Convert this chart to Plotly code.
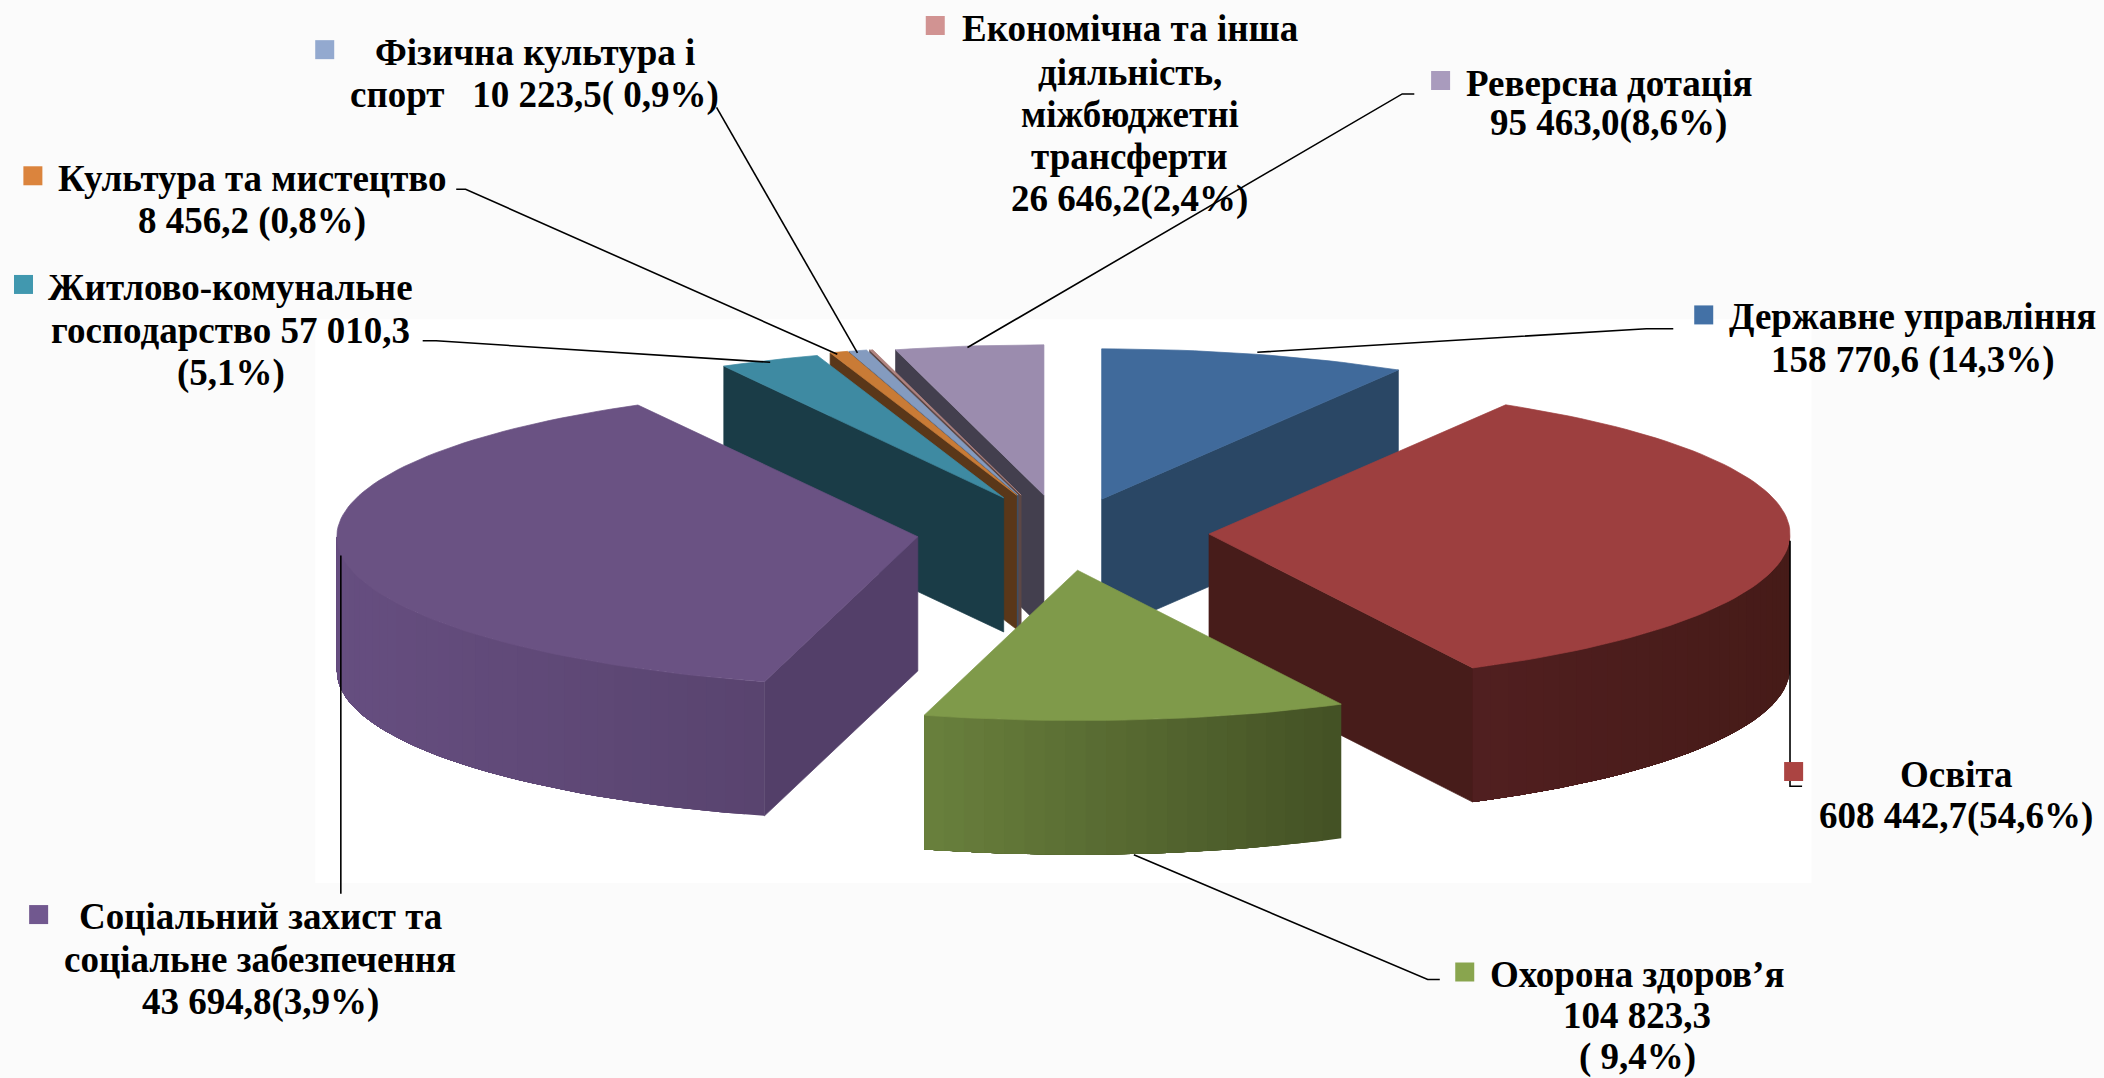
import math
import plotly.graph_objects as go

# Drawn share of each slice in percent, clockwise from the top
categories = ["Державне управління", "Освіта", "Охорона здоров’я",
              "Соціальний захист та соціальне забезпечення", "Житлово-комунальне господарство",
              "Культура та мистецтво", "Фізична культура і спорт",
              "Економічна та інша діяльність, міжбюджетні трансферти", "Реверсна дотація"]
shares = [8.53, 33.97, 11.75, 37.75, 2.80, 0.50, 0.50, 0.09, 4.11]

# Styling: top face, radial wall, outer wall left and right colour
top_colors = ["#406a9b", "#9d3f3f", "#7f9a4a", "#6a5283", "#3e8aa2", "#c97b36", "#849bbf", "#b0837f", "#9b8cae"]
side_colors = ["#2a4765", "#471c1a", "#4e5f2c", "#533f69", "#1a3c47", "#5a3719", "#3f5068", "#5d4846", "#433f4e"]
wall_left = ["#2a4765", "#511f20", "#6a813d", "#664e80", "#1a3c47", "#5a3719", "#3f5068", "#5d4846", "#433f4e"]
wall_right = ["#2a4765", "#461b18", "#445225", "#59446f", "#1a3c47", "#5a3719", "#3f5068", "#5d4846", "#433f4e"]
swatches = ["#4371a6", "#ab4442", "#89a54e", "#71588f", "#4198af", "#db843d", "#93a9cf", "#d19392", "#a99bbd"]

# Layout of the exploded pie, in the 1568-wide frame
apex_x = [821, 901, 803, 684, 748, 757.6, 758.7, 761, 778]
apex_y = [372, 398, 425, 400, 371, 369, 369, 369, 369]
RX, RY, DEPTH = 433, 112, 100
DRAW_ORDER = [8, 7, 6, 5, 4, 0, 1, 3, 2]

fig = go.Figure()


def poly(xs, ys, color, lw=0.7):
    fig.add_trace(go.Scatter(x=xs + xs[:1], y=ys + ys[:1], mode="lines", fill="toself",
                             fillcolor=color, line=dict(color=color, width=lw),
                             hoverinfo="skip", showlegend=False))


def mix(a, b, t):
    ca = [int(a[i:i + 2], 16) for i in (1, 3, 5)]
    cb = [int(b[i:i + 2], 16) for i in (1, 3, 5)]
    return "#" + "".join(f"{round(p + (q - p) * t):02x}" for p, q in zip(ca, cb))


def point(i, deg):
    r = math.radians(deg)
    return apex_x[i] + RX * math.sin(r), apex_y[i] - RY * math.cos(r)


# white area behind the pie
fig.add_shape(type="rect", x0=235, x1=1350, y0=238, y1=658, fillcolor="white",
              line_width=0, layer="below")

total = sum(shares)
edges = [0]
for s in shares:
    edges.append(edges[-1] + s / total * 360)

for i in DRAW_ORDER:
    a0, a1 = edges[i], edges[i + 1]
    # radial walls that face the viewer
    for deg, visible in ((a0, math.sin(math.radians(a0)) < -1e-6), (a1, math.sin(math.radians(a1)) > 1e-6)):
        if visible:
            px, py = point(i, deg)
            poly([px, apex_x[i], apex_x[i], px],
                 [py, apex_y[i], apex_y[i] + DEPTH, py + DEPTH], side_colors[i])
    # outer wall: each band repaints everything still to come, so no seams show
    w0, w1 = max(a0, 90), min(a1, 270)
    if w1 > w0:
        steps = max(2, int((w1 - w0) / 2))
        degs = [w0 + (w1 - w0) * k / steps for k in range(steps + 1)]
        pts = [point(i, d) for d in degs]
        lo, hi = min(p[0] for p in pts), max(p[0] for p in pts)
        for k in range(steps):
            rest = pts[k:]
            t = (rest[0][0] - lo) / (hi - lo)
            poly([p[0] for p in rest] + [p[0] for p in reversed(rest)],
                 [p[1] for p in rest] + [p[1] + DEPTH for p in reversed(rest)],
                 mix(wall_left[i], wall_right[i], t), lw=0)
    # top face
    steps = max(2, int((a1 - a0) / 1.5))
    arc = [point(i, a0 + (a1 - a0) * k / steps) for k in range(steps + 1)]
    poly([apex_x[i]] + [p[0] for p in arc], [apex_y[i]] + [p[1] for p in arc], top_colors[i])

# Leader lines
leaders = [
    ([1247, 1227, 937], [245, 245, 262.5]),
    ([1343, 1334, 1334], [586, 586, 403]),
    ([1073, 1064, 845], [730, 730, 637]),
    ([254, 254], [414, 666]),
    ([315, 325, 574], [254, 254, 270]),
    ([340, 347, 624], [141, 141, 264]),
    ([534, 639], [80, 263]),
    ([1054, 1045, 721], [70, 70, 259]),
]
for lx, ly in leaders:
    fig.add_trace(go.Scatter(x=lx, y=ly, mode="lines", line=dict(color="black", width=1.6),
                             hoverinfo="skip", showlegend=False))

# Legend keys
key_x = [1269.7, 1336.7, 1091.6, 28.8, 17.5, 24.5, 242, 697, 1073.6]
key_y = [234.7, 575, 724.4, 681.6, 212, 131, 37, 19, 60]
fig.add_trace(go.Scatter(x=key_x, y=key_y, mode="markers",
                         marker=dict(symbol="square", size=19, color=swatches, line_width=0),
                         text=categories, hoverinfo="text", showlegend=False))

# Label lines: centre x, centre y, text
label_lines = [
    (399, 39, "Фізична культура і"),
    (398, 71, "спорт\u00a0\u00a0\u00a010 223,5( 0,9%)"),
    (842, 21, "Економічна та інша"),
    (842, 54, "діяльність,"),
    (842, 85, "міжбюджетні"),
    (842, 117, "трансферти"),
    (842, 148, "26 646,2(2,4%)"),
    (1199, 62, "Реверсна дотація"),
    (1199, 92, "95 463,0(8,6%)"),
    (1425, 236, "Державне управління"),
    (1426, 268, "158 770,6 (14,3%)"),
    (188, 133, "Культура та мистецтво"),
    (188, 165, "8 456,2 (0,8%)"),
    (172, 214, "Житлово-комунальне"),
    (172, 246, "господарство 57 010,3"),
    (172, 278, "(5,1%)"),
    (194, 683, "Соціальний захист та"),
    (194, 715, "соціальне забезпечення"),
    (194, 747, "43 694,8(3,9%)"),
    (1458, 577, "Освіта"),
    (1458, 608, "608 442,7(54,6%)"),
    (1220, 726, "Охорона здоров’я"),
    (1220, 757, "104 823,3"),
    (1220, 788, "( 9,4%)"),
]
for tx, ty, txt in label_lines:
    fig.add_annotation(x=tx, y=ty, text=f"<b>{txt}</b>", showarrow=False, xanchor="center",
                       yanchor="middle", font=dict(family="Liberation Serif", size=37, color="black"))

fig.update_xaxes(range=[0, 1568], visible=False, fixedrange=True)
fig.update_yaxes(range=[803.4, 0], visible=False, fixedrange=True)
fig.update_layout(width=2104, height=1078, margin=dict(l=0, r=0, t=0, b=0), autosize=False,
                  paper_bgcolor="#fbfbfb", plot_bgcolor="#fbfbfb", showlegend=False)
fig.write_html("out.html", config={"displayModeBar": False},
               post_script="document.body.style.margin='0';")
